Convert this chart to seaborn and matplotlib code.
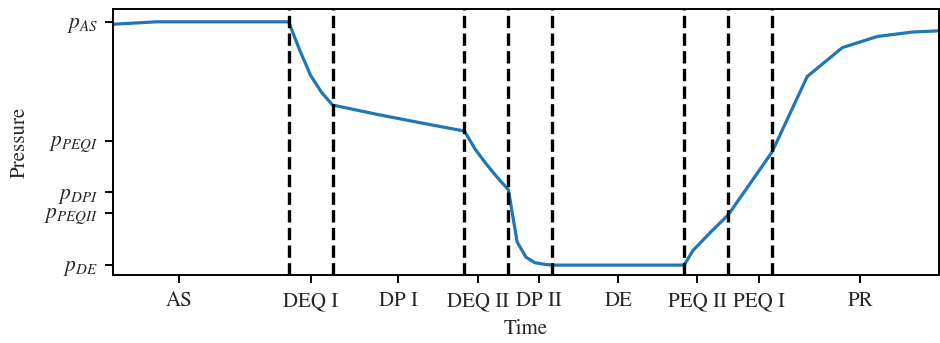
import matplotlib
matplotlib.use("Agg")
import matplotlib.pyplot as plt
import seaborn as sns
import pandas as pd

# pressure curve over the process phases (time in phase units)
time = [-4.0, -3.0, -2.0, -1.0, 0.0,
        0.25, 0.5, 0.75, 1.0,
        2.0, 3.0, 4.0,
        4.25, 4.5, 4.75, 5.0,
        5.2, 5.4, 5.6, 5.8, 6.0,
        7.0, 8.0, 9.0,
        9.2, 9.6, 10.0,
        10.5, 11.0,
        11.8, 12.6, 13.4, 14.2, 14.8]
pressure = [0.99, 1.0, 1.0, 1.0, 1.0,
            0.885, 0.78, 0.71, 0.658,
            0.62, 0.585, 0.551,
            0.475, 0.415, 0.36, 0.31,
            0.095, 0.033, 0.01, 0.004, 0.0,
            0.0, 0.0, 0.0,
            0.06, 0.135, 0.206,
            0.335, 0.465,
            0.775, 0.894, 0.94, 0.958, 0.963]

# phase boundaries and labels
boundaries = [0, 1, 4, 5, 6, 9, 10, 11]
phase_ticks = [-2.5, 0.5, 2.5, 4.3, 5.7, 7.5, 9.3, 10.7, 13.0]
phase_labels = ["AS", "DEQ I", "DP I", "DEQ II", "DP II", "DE", "PEQ II", "PEQ I", "PR"]

# characteristic pressure levels
level_values = [1.0, 0.51, 0.30, 0.214, 0.0]
level_labels = ["$p_{AS}$", "$p_{PEQI}$", "$p_{DPI}$", "$p_{PEQII}$", "$p_{DE}$"]

sns.set_theme(style="ticks")
plt.rcParams["font.family"] = ["STIXGeneral", "DejaVu Serif"]
plt.rcParams["mathtext.fontset"] = "stix"
plt.rcParams["axes.linewidth"] = 1.4

df = pd.DataFrame({"Time": time, "Pressure": pressure})

fig = plt.figure(figsize=(9.4, 3.43), dpi=100)
ax = fig.add_axes([0.120, 0.198, 0.879, 0.776])

sns.lineplot(data=df, x="Time", y="Pressure", ax=ax, color="#1f77b4", linewidth=2.3)
for b in boundaries:
    ax.axvline(b, color="black", linestyle="--", linewidth=2.4)

ax.set_xlim(-4, 14.8)
ax.set_ylim(-0.041, 1.053)
ax.set_xticks(phase_ticks)
ax.set_xticklabels(phase_labels)
ax.set_yticks(level_values)
ax.set_yticklabels(level_labels)
ax.tick_params(axis="x", labelsize=15, width=1.4, length=5.5, pad=6, color="black")
ax.tick_params(axis="y", labelsize=15.5, width=1.4, length=5.5, pad=5, color="black")
ax.set_xlabel("Time", fontsize=15, labelpad=6)
ax.set_ylabel("Pressure", fontsize=15, labelpad=10)
for s in ax.spines.values():
    s.set_color("black")

fig.savefig("out.png", dpi=100)
